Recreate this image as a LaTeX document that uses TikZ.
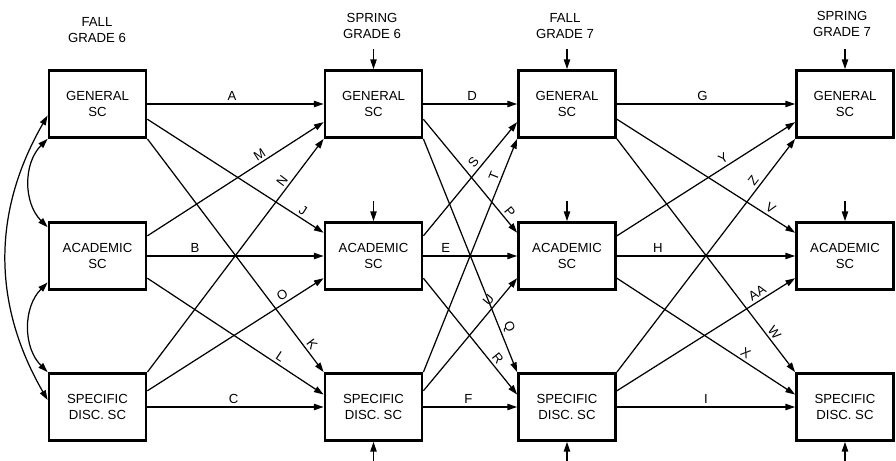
\documentclass[tikz,border=0pt]{standalone}
\usepackage{fontspec}
\setsansfont{Liberation Sans}
\usetikzlibrary{arrows.meta}

\tikzset{
  scbox/.style={draw, line width=1.6pt, minimum width=1.94cm, minimum height=1.34cm, inner sep=1pt, align=center, font=\sffamily\fontsize{7.5}{8.8}\selectfont},
  wavehead/.style={align=center, font=\sffamily\fontsize{7.5}{8.8}\selectfont},
  pathline/.style={-{Triangle[length=5.5pt,width=3.6pt]}, line width=0.7pt},
  covar/.style={{Triangle[length=5.5pt,width=3.6pt]}-{Triangle[length=5.5pt,width=3.6pt]}, line width=0.7pt},
  pathlbl/.style={above, inner sep=1.5pt, font=\sffamily\fontsize{7.5}{8.8}\selectfont},
}

\begin{document}
\begin{tikzpicture}[x=0.02cm, y=0.02cm]
  \useasboundingbox (0,0) rectangle (896,460);

  % waves
  \node[wavehead] (h1) at (97,430) {FALL\\GRADE 6};
  \node[wavehead] (h2) at (372,434) {SPRING\\GRADE 6};
  \node[wavehead] (h3) at (565,434) {FALL\\GRADE 7};
  \node[wavehead] (h4) at (842,436) {SPRING\\GRADE 7};

  % self-concept boxes
  \node[scbox] (g1) at (97.5,356) {GENERAL\\SC};
  \node[scbox] (a1) at (97.5,204) {ACADEMIC\\SC};
  \node[scbox] (s1) at (97.5,53) {SPECIFIC\\DISC. SC};
  \node[scbox] (g2) at (373.5,356) {GENERAL\\SC};
  \node[scbox] (a2) at (373.5,204) {ACADEMIC\\SC};
  \node[scbox] (s2) at (373.5,53) {SPECIFIC\\DISC. SC};
  \node[scbox] (g3) at (567,356) {GENERAL\\SC};
  \node[scbox] (a3) at (567,204) {ACADEMIC\\SC};
  \node[scbox] (s3) at (567,53) {SPECIFIC\\DISC. SC};
  \node[scbox] (g4) at (845,356) {GENERAL\\SC};
  \node[scbox] (a4) at (845,204) {ACADEMIC\\SC};
  \node[scbox] (s4) at (845,53) {SPECIFIC\\DISC. SC};

  % residual arrows
  \foreach \c in {2,3,4} {
    \coordinate (eg\c) at ([yshift=0.4cm]g\c.north);
    \coordinate (ea\c) at ([yshift=0.4cm]a\c.north);
    \coordinate (es\c) at ([yshift=-0.45cm]s\c.south);
    \draw[pathline] (eg\c) -- (g\c.north);
    \draw[pathline] (ea\c) -- (a\c.north);
    \draw[pathline] (es\c) -- (s\c.south);
  }

  % correlations at grade 6 fall
  \draw[covar] (g1.south west) to[bend right=45] (a1.150);
  \draw[covar] (a1.208) to[bend right=45] (s1.north west);
  \draw[covar] (g1.193) to[bend right=30] (s1.172);

  % fall 6 -> spring 6
  \draw[pathline] (g1.east) -- node[pathlbl, pos=0.48] {A} (g2.west);
  \draw[pathline] (g1.-17) -- node[pathlbl, sloped, pos=0.86] {J} (a2.155);
  \draw[pathline] (g1.south east) -- node[pathlbl, sloped, pos=0.9] {K} (s2.north west);
  \draw[pathline] (a1.22) -- node[pathlbl, sloped, pos=0.66] {M} (g2.200);
  \draw[pathline] (a1.east) -- node[pathlbl, pos=0.27] {B} (a2.west);
  \draw[pathline] (a1.-24) -- node[pathlbl, sloped, pos=0.73] {L} (s2.166);
  \draw[pathline] (s1.north east) -- node[pathlbl, sloped, pos=0.8] {N} (g2.south west);
  \draw[pathline] (s1.18) -- node[pathlbl, sloped, pos=0.79] {O} (a2.204);
  \draw[pathline] (s1.east) -- node[pathlbl, pos=0.49] {C} (s2.west);

  % spring 6 -> fall 7
  \draw[pathline] (g2.east) -- node[pathlbl, pos=0.52] {D} (g3.west);
  \draw[pathline] (g2.-17) -- node[pathlbl, sloped, pos=0.86] {P} (a3.155);
  \draw[pathline] (g2.south east) -- node[pathlbl, sloped, pos=0.82] {Q} (s3.north west);
  \draw[pathline] (a2.22) -- node[pathlbl, sloped, pos=0.6] {S} (g3.200);
  \draw[pathline] (a2.east) -- node[pathlbl, pos=0.24] {E} (a3.west);
  \draw[pathline] (a2.-24) -- node[pathlbl, sloped, pos=0.73] {R} (s3.166);
  \draw[pathline] (s2.north east) -- node[pathlbl, sloped, pos=0.83] {T} (g3.south west);
  \draw[pathline] (s2.18) -- node[pathlbl, sloped, pos=0.76] {U} (a3.204);
  \draw[pathline] (s2.east) -- node[pathlbl, pos=0.48] {F} (s3.west);

  % fall 7 -> spring 7
  \draw[pathline] (g3.east) -- node[pathlbl, pos=0.48] {G} (g4.west);
  \draw[pathline] (g3.-17) -- node[pathlbl, sloped, pos=0.84] {V} (a4.155);
  \draw[pathline] (g3.south east) -- node[pathlbl, sloped, pos=0.85] {W} (s4.north west);
  \draw[pathline] (a3.22) -- node[pathlbl, sloped, pos=0.62] {Y} (g4.200);
  \draw[pathline] (a3.east) -- node[pathlbl, pos=0.23] {H} (a4.west);
  \draw[pathline] (a3.-24) -- node[pathlbl, sloped, pos=0.7] {X} (s4.166);
  \draw[pathline] (s3.north east) -- node[pathlbl, sloped, pos=0.8] {Z} (g4.south west);
  \draw[pathline] (s3.18) -- node[pathlbl, sloped, pos=0.81] {AA} (a4.204);
  \draw[pathline] (s3.east) -- node[pathlbl, pos=0.5] {I} (s4.west);
\end{tikzpicture}
\end{document}
